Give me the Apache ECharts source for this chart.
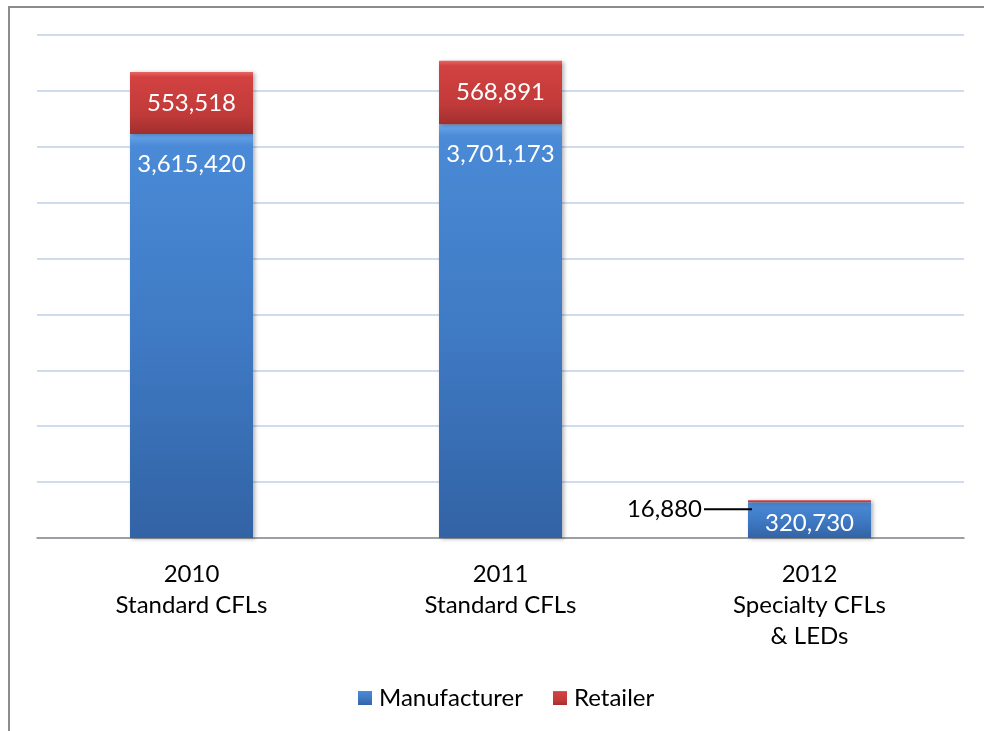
<!DOCTYPE html>
<html>
<head>
<meta charset="utf-8">
<script src="https://cdn.jsdelivr.net/npm/echarts@6/dist/echarts.min.js"></script>
<style>
  html, body { margin: 0; padding: 0; background: #fff; }
  #chart { width: 984px; height: 731px; }
</style>
</head>
<body>
<div id="chart"></div>
<script>
// Bulbs sold by channel
const categories = ['2010\nStandard CFLs', '2011\nStandard CFLs', '2012\nSpecialty CFLs\n& LEDs'];
const manufacturer = [3615420, 3701173, 320730];
const retailer = [553518, 568891, 16880];
const seriesNames = ['Manufacturer', 'Retailer'];

const FONT = 'Lato, "Open Sans", sans-serif';
const FS = 24;
const fmt = v => v.toLocaleString('en-US');

function vGrad(stops) {
  return {
    type: 'linear', x: 0, y: 0, x2: 0, y2: 1,
    colorStops: stops.map(([o, c]) => ({ offset: o, color: c }))
  };
}
const blueFill = vGrad([[0, '#6aa8ee'], [0.03, '#4a8ad6'], [0.5, '#3f7ac4'], [1, '#3263a5']]);
const redFill = vGrad([[0, '#ea6463'], [0.08, '#d24241'], [0.7, '#c03a39'], [1, '#a02f2e']]);

const chart = echarts.init(document.getElementById('chart'), null, { renderer: 'canvas' });

const manuData = manufacturer.map((v, i) => {
  const big = i < 2;
  return {
    value: v,
    label: big
      ? { position: 'insideTop', distance: 18 }
      : { position: 'inside', offset: [0, 3] }
  };
});

const retData = retailer.map((v, i) => {
  if (i < 2) return { value: v };
  return {
    value: v,
    label: {
      position: 'left',
      distance: -4,
      offset: [0, 8],
      color: '#000',
      fontSize: FS,
      formatter: p => '{v|' + fmt(p.value) + '}{l|}',
      rich: {
        v: { color: '#000', fontSize: FS, fontFamily: FONT, padding: [0, 2, 0, 0] },
        l: { width: 48, height: 2, backgroundColor: '#000' }
      }
    }
  };
});

const barShadow = {
  shadowColor: 'rgba(0,0,0,0.3)',
  shadowBlur: 4,
  shadowOffsetX: 2,
  shadowOffsetY: 1
};

chart.setOption({
  animation: false,
  textStyle: { fontFamily: FONT },
  graphic: [
    { type: 'line', shape: { x1: 9, y1: 7, x2: 984, y2: 7 }, style: { stroke: '#8c8c8c', lineWidth: 2 } },
    { type: 'line', shape: { x1: 9, y1: 6, x2: 9, y2: 731 }, style: { stroke: '#8c8c8c', lineWidth: 2 } }
  ],
  grid: { left: 37, right: 20, top: 35, bottom: 193 },
  legend: {
    data: seriesNames,
    top: 681,
    left: 353,
    itemWidth: 14,
    itemHeight: 14,
    itemGap: 30,
    icon: 'rect',
    textStyle: { fontSize: FS, color: '#000', fontFamily: FONT, padding: [0, 0, 0, 2] }
  },
  xAxis: {
    type: 'category',
    data: categories,
    axisTick: { show: false },
    axisLine: { lineStyle: { color: '#8c8c8c', width: 1.5 } },
    axisLabel: { color: '#000', fontSize: FS, lineHeight: 31, margin: 21, fontFamily: FONT }
  },
  yAxis: {
    type: 'value',
    min: 0,
    max: 4500000,
    interval: 500000,
    axisLabel: { show: false },
    axisLine: { show: false },
    axisTick: { show: false },
    splitLine: { lineStyle: { color: '#bed0e8', width: 1.5 } }
  },
  series: [
    {
      name: seriesNames[0],
      type: 'bar',
      stack: 'total',
      barWidth: 123,
      data: manuData,
      itemStyle: Object.assign({ color: blueFill }, barShadow),
      label: {
        show: true,
        color: '#fff',
        fontSize: FS,
        fontFamily: FONT,
        formatter: p => fmt(p.value)
      }
    },
    {
      name: seriesNames[1],
      type: 'bar',
      stack: 'total',
      barWidth: 123,
      data: retData,
      itemStyle: Object.assign({ color: redFill }, barShadow),
      label: {
        show: true,
        position: 'inside',
        color: '#fff',
        fontSize: FS,
        fontFamily: FONT,
        formatter: p => fmt(p.value)
      }
    }
  ]
});
</script>
</body>
</html>
